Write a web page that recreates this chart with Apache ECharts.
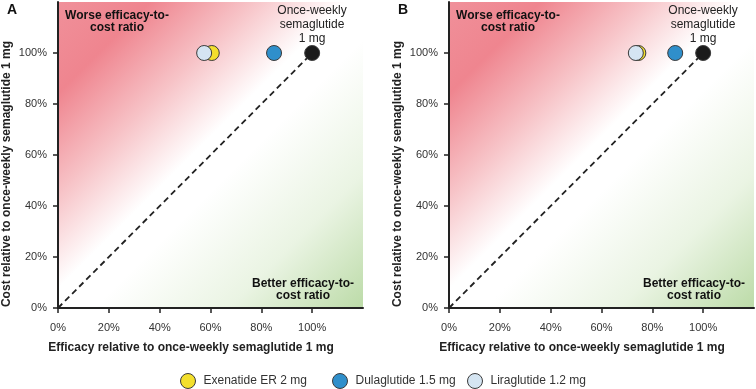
<!DOCTYPE html>
<html><head><meta charset="utf-8">
<script src="https://cdn.jsdelivr.net/npm/echarts@6/dist/echarts.min.js"></script>
<style>html,body{margin:0;padding:0;background:#fff}#c{width:756px;height:389px}</style>
</head><body><div id="c"></div>
<script>
const drugs = ['Exenatide ER 2 mg', 'Dulaglutide 1.5 mg', 'Liraglutide 1.2 mg', 'Once-weekly semaglutide 1 mg'];
const colors = ['#f3df2c', '#2f8fcb', '#d5e5f2', '#1b1b1b'];
const efficacyA = [60.5, 85, 57.5, 100];
const costA = [100, 100, 100, 100];
const efficacyB = [74.5, 89, 73.5, 100];
const costB = [100, 100, 100, 100];
const tickValues = [0, 20, 40, 60, 80, 100];
const parityLine = [[0, 0], [100, 100]];
const panelLabels = ['A', 'B'];
const xName = 'Efficacy relative to once-weekly semaglutide 1 mg';
const yName = 'Cost relative to once-weekly semaglutide 1 mg';
const worseText = 'Worse efficacy-to-\ncost ratio';
const betterText = 'Better efficacy-to-\ncost ratio';
const refText = 'Once-weekly\nsemaglutide\n1 mg';

const FONT = "'Liberation Sans', Arial, sans-serif";
const bg = {type: 'linear', x: 0, y: 0, x2: 1, y2: 1, colorStops: [
  {offset: 0, color: '#f0909a'}, {offset: 0.15, color: '#ef858f'}, {offset: 0.32, color: '#f7c4c8'},
  {offset: 0.47, color: '#ffffff'}, {offset: 0.56, color: '#ffffff'}, {offset: 0.78, color: '#eaf4e3'},
  {offset: 1, color: '#bcdba8'}]};

const grids = [
  {left: 58, top: 2, width: 305, height: 306, show: true, backgroundColor: bg, borderWidth: 0},
  {left: 449, top: 2, width: 305, height: 306, show: true, backgroundColor: bg, borderWidth: 0}
];
function xAxis(i) {
  return {type: 'value', gridIndex: i, min: 0, max: 120, interval: 20,
    axisLine: {show: true, lineStyle: {color: '#222', width: 2}},
    axisTick: {show: true, length: 5, lineStyle: {color: '#222', width: 1.5}, customValues: tickValues},
    axisLabel: {margin: 14, fontSize: 11, color: '#333', fontFamily: FONT, formatter: '{value}%', customValues: tickValues},
    splitLine: {show: false}};
}
function yAxis(i) {
  const a = xAxis(i); a.axisLabel = Object.assign({}, a.axisLabel, {margin: 11}); return a;
}
const series = [];
[[efficacyA, costA], [efficacyB, costB]].forEach(([ef, co], p) => {
  series.push({type: 'line', xAxisIndex: p, yAxisIndex: p, data: parityLine, symbol: 'none', silent: true,
    lineStyle: {color: '#222', width: 1.8, type: [6, 4]}, z: 2});
  [3, 1, 0, 2].forEach(k => {
    series.push({type: 'scatter', name: drugs[k], xAxisIndex: p, yAxisIndex: p, symbolSize: 15,
      data: [[ef[k], co[k]]], itemStyle: {color: colors[k], borderColor: '#3a3a3a', borderWidth: 1, opacity: 1}, z: 3 + k});
  });
});
const graphics = [];
[0, 391].forEach((dx, p) => {
  graphics.push({type: 'text', left: 7 + dx, top: 3, style: {text: panelLabels[p], font: 'bold 14px ' + FONT, fill: '#111'}});
  graphics.push({type: 'text', x: 117 + dx, y: 10, style: {text: worseText, font: 'bold 12px ' + FONT, fill: '#111', align: 'center', lineHeight: 12}});
  graphics.push({type: 'text', x: 312 + dx, y: 4, style: {text: refText, font: '12px ' + FONT, fill: '#222', align: 'center', lineHeight: 14}});
  graphics.push({type: 'text', x: 303 + dx, y: 277, style: {text: betterText, font: 'bold 12px ' + FONT, fill: '#111', align: 'center', lineHeight: 12.5}});
  graphics.push({type: 'text', x: 191 + dx, y: 342, style: {text: xName, font: 'bold 12px ' + FONT, fill: '#222', align: 'center'}});
  graphics.push({type: 'text', x: 0.5 + dx, y: 174, rotation: Math.PI / 2, style: {text: yName, font: 'bold 12px ' + FONT, fill: '#222', align: 'center'}});
});
const legendLefts = [180, 332, 467];
const legends = drugs.slice(0, 3).map((d, i) => ({
  data: [d], left: legendLefts[i], top: 373, padding: 0, icon: 'circle', itemWidth: 15, itemHeight: 15,
  textStyle: {fontSize: 12, color: '#333', fontFamily: FONT, padding: [0, 0, 0, 3]},
  itemStyle: {borderColor: '#3a3a3a', borderWidth: 1}
}));
const chart = echarts.init(document.getElementById('c'), null, {renderer: 'canvas'});
chart.setOption({
  animation: false,
  grid: grids,
  xAxis: [xAxis(0), xAxis(1)],
  yAxis: [yAxis(0), yAxis(1)],
  legend: legends,
  series: series,
  graphic: graphics
});
</script></body></html>
